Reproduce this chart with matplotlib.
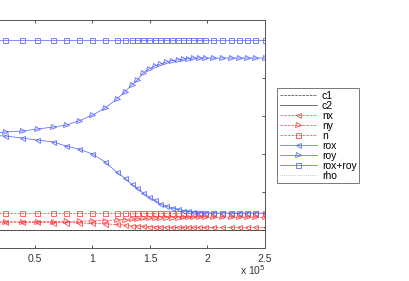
import numpy as np
import matplotlib
matplotlib.use("Agg")
import matplotlib.pyplot as plt

plt.rcParams['font.family'] = ['Liberation Sans', 'DejaVu Sans']

# time axis (units of 1e5), solver output points
x = np.array([0, 0.13, 0.24, 0.39, 0.52, 0.66, 0.77, 0.88, 1.0, 1.11, 1.21,
              1.28, 1.34, 1.39, 1.44, 1.49, 1.54, 1.59, 1.64, 1.69, 1.74,
              1.79, 1.83, 1.87, 1.93, 1.98, 2.05, 2.13, 2.2, 2.27, 2.34,
              2.41, 2.5])

roy = [0.3526, 0.354, 0.358, 0.3605, 0.3658, 0.371, 0.376, 0.387, 0.4026,
       0.421, 0.4447, 0.463, 0.4816, 0.4947, 0.513, 0.5237, 0.5316, 0.5368,
       0.542, 0.546, 0.5474, 0.55, 0.5513, 0.5526, 0.5526, 0.5526, 0.5526,
       0.5526, 0.5526, 0.5526, 0.5526, 0.5526, 0.5526]
rox = [0.35, 0.3487, 0.3474, 0.342, 0.3368, 0.3316, 0.321, 0.313, 0.30,
       0.279, 0.2526, 0.2368, 0.221, 0.2105, 0.197, 0.1868, 0.179, 0.168,
       0.163, 0.158, 0.155, 0.1513, 0.15, 0.147, 0.146, 0.1447, 0.1447,
       0.1447, 0.1447, 0.1447, 0.1447, 0.1447, 0.1447]
ny = [0.121, 0.121, 0.121, 0.1215, 0.1218, 0.122, 0.1224, 0.1232, 0.124,
      0.125, 0.1266, 0.1276, 0.1287, 0.1295, 0.1305, 0.131, 0.1316, 0.1318,
      0.1324, 0.1326, 0.1326, 0.1329, 0.133, 0.133, 0.133, 0.133, 0.133,
      0.133, 0.133, 0.133, 0.133, 0.133, 0.133]
nx = [0.1211, 0.1211, 0.1208, 0.1205, 0.12, 0.1197, 0.1195, 0.1187, 0.1174,
      0.1161, 0.1145, 0.1132, 0.1118, 0.1108, 0.1095, 0.1087, 0.1082, 0.1076,
      0.1074, 0.1071, 0.1068, 0.1068, 0.1066, 0.1066, 0.1066, 0.1066, 0.1066,
      0.1066, 0.1066, 0.1066, 0.1066, 0.1066, 0.1066]
n_tot = [0.1447] * len(x)
ro_tot = [0.6] * len(x)
rho = [0.6] * len(x)
c1 = [0.1] * len(x)
c2 = [0.1] * len(x)

xticks = [0, 0.5, 1, 1.5, 2, 2.5]
xticklabels = ["", "0.5", "1", "1.5", "2", "2.5"]

blue = '#4f5fff'
red = '#ff3a3a'

fig = plt.figure(figsize=(4.1, 2.81), dpi=100)
ax = fig.add_axes([-22.5 / 410, 33 / 281, 287.5 / 410, 228 / 281])

ms = 3.6
lw = 0.5
mk = dict(ms=ms, mfc='none', mew=0.55)
ax.plot(x, c1, '--', color='#333333', lw=lw, label='c1')
ax.plot(x, c2, '-', color='#333333', lw=lw, label='c2')
ax.plot(x, nx, '--<', color=red, lw=lw, label='nx', **mk)
ax.plot(x, ny, '-->', color=red, lw=lw, label='ny', **mk)
ax.plot(x, n_tot, '--s', color=red, lw=lw, label='n', **mk)
ax.plot(x, rox, '-<', color=blue, lw=lw, label='rox', **mk)
ax.plot(x, roy, '->', color=blue, lw=lw, label='roy', **mk)
ax.plot(x, ro_tot, '-s', color=blue, lw=lw, label='rox+roy', **mk)
ax.plot(x, rho, ':', color='#999999', lw=lw, label='rho')

ax.set_xlim(0, 2.5)
ax.set_ylim(0.1 - 18 / 380, 0.6 + 20 / 380)
ax.set_xticks(xticks)
ax.set_xticklabels(xticklabels)
ax.set_yticks([0.1, 0.2, 0.3, 0.4, 0.5, 0.6])
ax.tick_params(axis='y', labelleft=False)
ax.tick_params(direction='in', top=True, right=True, length=2.5, width=0.6,
               labelsize=7.5, colors='#333333', pad=4)
for s in ax.spines.values():
    s.set_linewidth(0.7)
    s.set_color('#555555')

fig.text(240 / 410, 1 - 270 / 281, r'x 10$^{5}$', fontsize=7.5,
         color='#333333', va='center')

leg = fig.legend(loc='upper left', bbox_to_anchor=(277 / 410, 1 - 88 / 281),
                 borderaxespad=0, fontsize=7.5, handlelength=3.6,
                 handletextpad=0.45, labelspacing=0.0, borderpad=0.25,
                 numpoints=1, fancybox=False)
leg.get_frame().set_edgecolor('#555555')
leg.get_frame().set_linewidth(0.7)

fig.savefig("out.png", dpi=100)
